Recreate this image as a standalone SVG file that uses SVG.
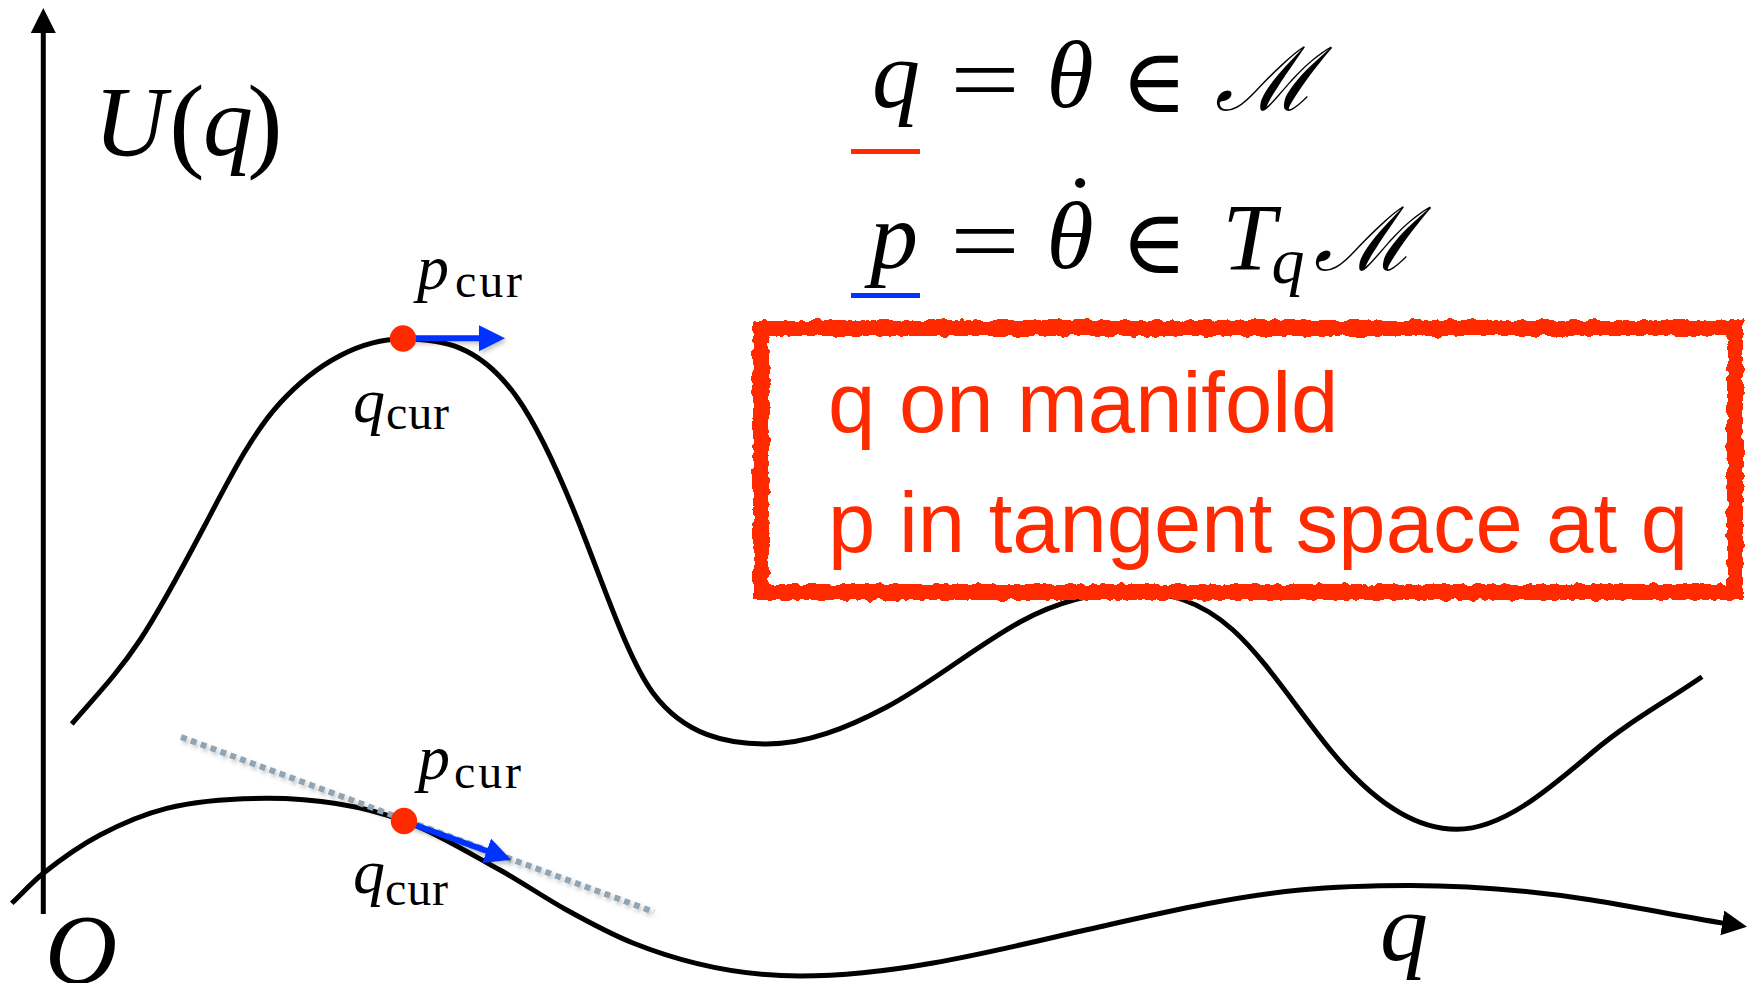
<svg xmlns="http://www.w3.org/2000/svg" width="1758" height="983" viewBox="0 0 1758 983">
  <defs>
    <style>
      .curve { fill: none; stroke: #000; stroke-width: 5; stroke-linecap: butt; }
      .axis { fill: none; stroke: #000; stroke-width: 5; }
      .vec { fill: none; stroke: #0433ff; stroke-width: 6; }
      .tan { fill: none; stroke: #8fa5b6; stroke-width: 6; stroke-dasharray: 6 4.5; }
      .dot { fill: #ff2a00; }
      .math { font-family: "Liberation Serif", "DejaVu Serif", serif; fill: #000; }
      .it { font-style: italic; }
      .sym { font-family: "DejaVu Serif", "Liberation Serif", serif; fill: #000; }
      .note { font-family: "Liberation Sans", Arial, sans-serif; font-size: 85px; fill: #ff2a00; }
    </style>
    <marker id="ah-black" markerUnits="userSpaceOnUse" markerWidth="27" markerHeight="26" refX="1" refY="12.5" orient="auto">
      <path d="M0,0 L25,12.5 L0,25 Z" fill="#000"/>
    </marker>
    <marker id="ah-blue" markerUnits="userSpaceOnUse" markerWidth="28" markerHeight="27" refX="1" refY="13" orient="auto">
      <path d="M0,0 L26,13 L0,26 Z" fill="#0433ff"/>
    </marker>
    <filter id="shadow" filterUnits="userSpaceOnUse" x="0" y="0" width="1758" height="983">
      <feDropShadow dx="2" dy="3" stdDeviation="2" flood-color="#000" flood-opacity="0.22"/>
    </filter>
    <filter id="rough" x="-3%" y="-8%" width="106%" height="116%">
      <feTurbulence type="fractalNoise" baseFrequency="0.12" numOctaves="2" seed="4" result="n"/>
      <feDisplacementMap in="SourceGraphic" in2="n" scale="7" xChannelSelector="R" yChannelSelector="G"/>
    </filter>
  </defs>

  <rect width="1758" height="983" fill="#fff"/>

  <!-- potential curve U(q) -->
  <g id="potential-curve">
    <path class="curve" d="M71.7,724 C94.5,697.4 117.2,674.4 140,640 C161.7,607.3 183.3,566.2 205,525 C230,477.5 252,433.6 280,403 C318,361.5 362,339 403,339 C440.9,339 478.8,343.9 516.7,397 C540,429.7 563.4,482.4 586.7,543 C608.8,600.5 630.9,663.2 653,693 C685,736 728,744 766.7,744 C806.7,744 846.7,728.2 886.7,707 C931.1,683.5 975.6,646.4 1020,622 C1057.7,601.3 1095.3,592 1133,592 C1166.3,592 1199.7,600 1233,630 C1266.3,660 1299.7,713 1333,753 C1374.2,802.4 1415.5,829.3 1456.7,829.3 C1501.7,829.3 1546.6,791.3 1591.6,753 C1628.4,721.7 1665.2,702.1 1702,676.7"/>
  </g>

  <!-- connectors: axes, tangent, momentum vectors -->
  <g id="connectors">
    <path id="u-axis" class="axis" d="M43.3,914 L43.3,32" marker-end="url(#ah-black)"/>
    <path id="q-axis" class="curve" d="M11.7,903.3 C22.2,893.3 32.8,881.7 43.3,873.3 C62.2,858.2 81.1,845 100,835 C122.2,823.2 144.5,813.9 166.7,808.3 C200,800 233.4,798.3 266.7,798.3 C312.5,798.3 358.2,804.1 404,821 C436,832.8 468,852.4 500,870 C522.2,882.2 544.5,897.8 566.7,910 C588.8,922.2 610.9,934.2 633,943 C688.7,965.3 744.3,976 800,976 C844.3,976 888.7,970.8 933,963 C988.7,953.3 1044.3,939.2 1100,926.7 C1166.7,911.7 1233.3,896.3 1300,890 C1336.7,886.5 1373.3,885.5 1410,885.5 C1470.5,885.5 1531.1,890.6 1591.6,900 C1635.5,906.8 1679.4,916.2 1723.3,923.1" marker-end="url(#ah-black)"/>
    <path id="tangent-line" class="tan" filter="url(#shadow)" d="M181,737 L654,912"/>
    <path id="p-upper" class="vec" filter="url(#shadow)" d="M403,338.3 L480,338.3" marker-end="url(#ah-blue)"/>
    <path id="p-lower" class="vec" filter="url(#shadow)" d="M404,821 L487.6,851.2" marker-end="url(#ah-blue)"/>
  </g>

  <!-- current points -->
  <g id="point-upper">
    <circle class="dot" cx="403" cy="338.5" r="13.2"/>
    <text class="math it" x="433" y="289" font-size="64" text-anchor="middle">p</text>
    <text class="math" x="455" y="297" font-size="48" textLength="67" lengthAdjust="spacing">cur</text>
    <text class="math it" x="369" y="422" font-size="64" text-anchor="middle">q</text>
    <text class="math" x="386" y="429" font-size="48" textLength="63" lengthAdjust="spacing">cur</text>
  </g>
  <g id="point-lower">
    <circle class="dot" cx="404" cy="821" r="13.2"/>
    <text class="math it" x="434" y="779" font-size="64" text-anchor="middle">p</text>
    <text class="math" x="454" y="788" font-size="48" textLength="67" lengthAdjust="spacing">cur</text>
    <text class="math it" x="369" y="893" font-size="64" text-anchor="middle">q</text>
    <text class="math" x="385" y="905" font-size="48" textLength="63" lengthAdjust="spacing">cur</text>
  </g>

  <!-- axis labels -->
  <g id="axis-labels">
    <text class="math it" x="130" y="155" font-size="100" text-anchor="middle">U</text>
    <text class="math" x="187" y="158" font-size="106" text-anchor="middle">(</text>
    <text class="math it" x="228" y="155" font-size="100" text-anchor="middle">q</text>
    <text class="math" x="265" y="158" font-size="106" text-anchor="middle">)</text>
    <text class="math it" x="81" y="983" font-size="100" text-anchor="middle">O</text>
    <text class="math it" x="1404" y="960" font-size="96" text-anchor="middle">q</text>
  </g>

  <!-- equations -->
  <g id="equations">
    <text class="math it" x="896" y="107" font-size="96" text-anchor="middle">q</text>
    <text class="math" x="950" y="112" font-size="96" textLength="70" lengthAdjust="spacingAndGlyphs">=</text>
    <text class="math it" x="1070" y="107" font-size="96" text-anchor="middle">θ</text>
    <text class="sym" x="1154" y="112" font-size="90" text-anchor="middle">∈</text>
    <text class="sym it" x="1266" y="110" font-size="88" text-anchor="middle">ℳ</text>
    <rect x="851" y="149" width="69" height="5" fill="#ff2a00"/>

    <text class="math it" x="894" y="268" font-size="96" text-anchor="middle">p</text>
    <text class="math" x="950" y="273" font-size="96" textLength="70" lengthAdjust="spacingAndGlyphs">=</text>
    <text class="math it" x="1070" y="268" font-size="96" text-anchor="middle">θ</text>
    <text class="math" x="1080" y="241" font-size="96" text-anchor="middle">˙</text>
    <text class="sym" x="1154" y="273" font-size="90" text-anchor="middle">∈</text>
    <text class="math it" x="1249" y="270" font-size="96" text-anchor="middle">T</text>
    <text class="math it" x="1288" y="283" font-size="66" text-anchor="middle">q</text>
    <text class="sym it" x="1365" y="270" font-size="88" text-anchor="middle">ℳ</text>
    <rect x="851" y="293" width="69" height="5" fill="#0433ff"/>
  </g>

  <!-- note box -->
  <g id="note-box">
    <rect x="761" y="328" width="974" height="264" fill="none" stroke="#ff2a00" stroke-width="16" filter="url(#rough)"/>
    <text class="note" x="828" y="432">q on manifold</text>
    <text class="note" x="828" y="552">p in tangent space at q</text>
  </g>
</svg>
